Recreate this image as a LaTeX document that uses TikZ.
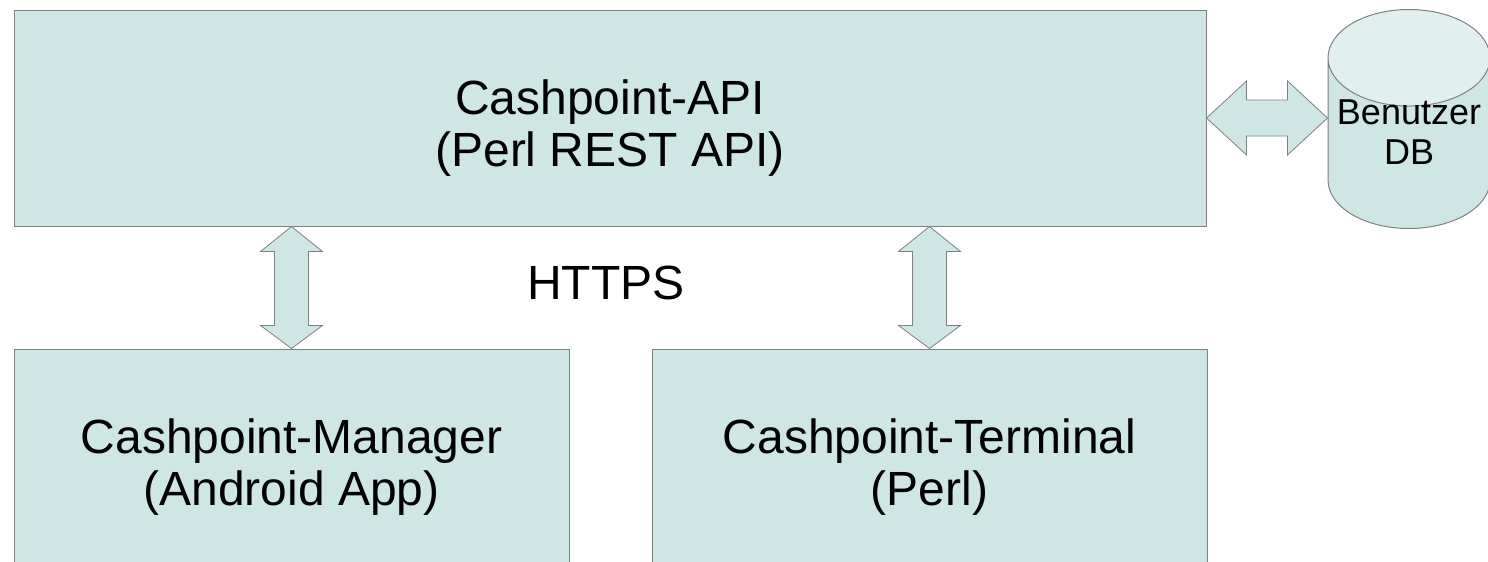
\documentclass[tikz,border=0pt]{standalone}
\usepackage{fontspec}
\setmainfont{Liberation Sans}
\usetikzlibrary{calc,positioning,shapes.geometric}

\definecolor{boxfill}{HTML}{CFE7E4}
\definecolor{endfill}{HTML}{E1F0EE}
\definecolor{edge}{HTML}{808080}

\begin{document}
\begin{tikzpicture}[x=0.5pt,y=-0.5pt,
        box/.style={draw=edge, fill=boxfill, line width=0.5pt, inner sep=0pt,
            minimum width=#1, minimum height=108pt, align=center, text height=53pt,
            font=\fontsize{24}{26}\selectfont},
        fat/.style={draw=edge, fill=boxfill, line width=0.4pt, line join=miter},
        dbstore/.style={cylinder, shape border rotate=90, aspect=0.67,
            draw=edge, line width=0.5pt, cylinder uses custom fill,
            cylinder body fill=boxfill, cylinder end fill=endfill,
            minimum width=81pt, minimum height=109.5pt, inner sep=0pt,
            text height=27pt, text depth=5.5pt,
            align=center, font=\fontsize{18}{20}\selectfont},
    ]
    \useasboundingbox (0,0) rectangle (1488,562);
    % Server
    \node[box=596pt] (api) at (610,118) {Cashpoint-API\\(Perl REST API)};
    % Clients
    \node[box=277.5pt, below right=61pt and 0pt of api.south west] (mgr) {Cashpoint-Manager\\(Android App)};
    \node[box=277.5pt, right=41pt of mgr] (term) {Cashpoint-Terminal\\(Perl)};
    % Datenbank
    \node[dbstore, anchor=top] (db) at (1409,9) {Benutzer\\DB};
    \node[font=\fontsize{24}{26}\selectfont] (https) at (606,283) {HTTPS};
    % api <-> db
    \coordinate (l) at (api.east);
    \coordinate (r) at (db.west |- api.east);
    \draw[fat] (l) -- ($(l)+(40,-37)$) -- ($(l)+(40,-18)$) -- ($(r)+(-40,-18)$) -- ($(r)+(-40,-37)$)
        -- (r) -- ($(r)+(-40,37)$) -- ($(r)+(-40,18)$) -- ($(l)+(40,18)$) -- ($(l)+(40,37)$) -- cycle;
    % api <-> mgr
    \coordinate (t1) at (api.south -| mgr.north);
    \draw[fat] (t1) -- ($(t1)+(31,25)$) -- ($(t1)+(17,25)$) -- ($(mgr.north)+(17,-23)$) -- ($(mgr.north)+(31,-23)$)
        -- (mgr.north) -- ($(mgr.north)+(-31,-23)$) -- ($(mgr.north)+(-17,-23)$) -- ($(t1)+(-17,25)$) -- ($(t1)+(-31,25)$) -- cycle;
    % api <-> term
    \coordinate (t2) at (api.south -| term.north);
    \draw[fat] (t2) -- ($(t2)+(31,25)$) -- ($(t2)+(17,25)$) -- ($(term.north)+(17,-23)$) -- ($(term.north)+(31,-23)$)
        -- (term.north) -- ($(term.north)+(-31,-23)$) -- ($(term.north)+(-17,-23)$) -- ($(t2)+(-17,25)$) -- ($(t2)+(-31,25)$) -- cycle;
\end{tikzpicture}
\end{document}
